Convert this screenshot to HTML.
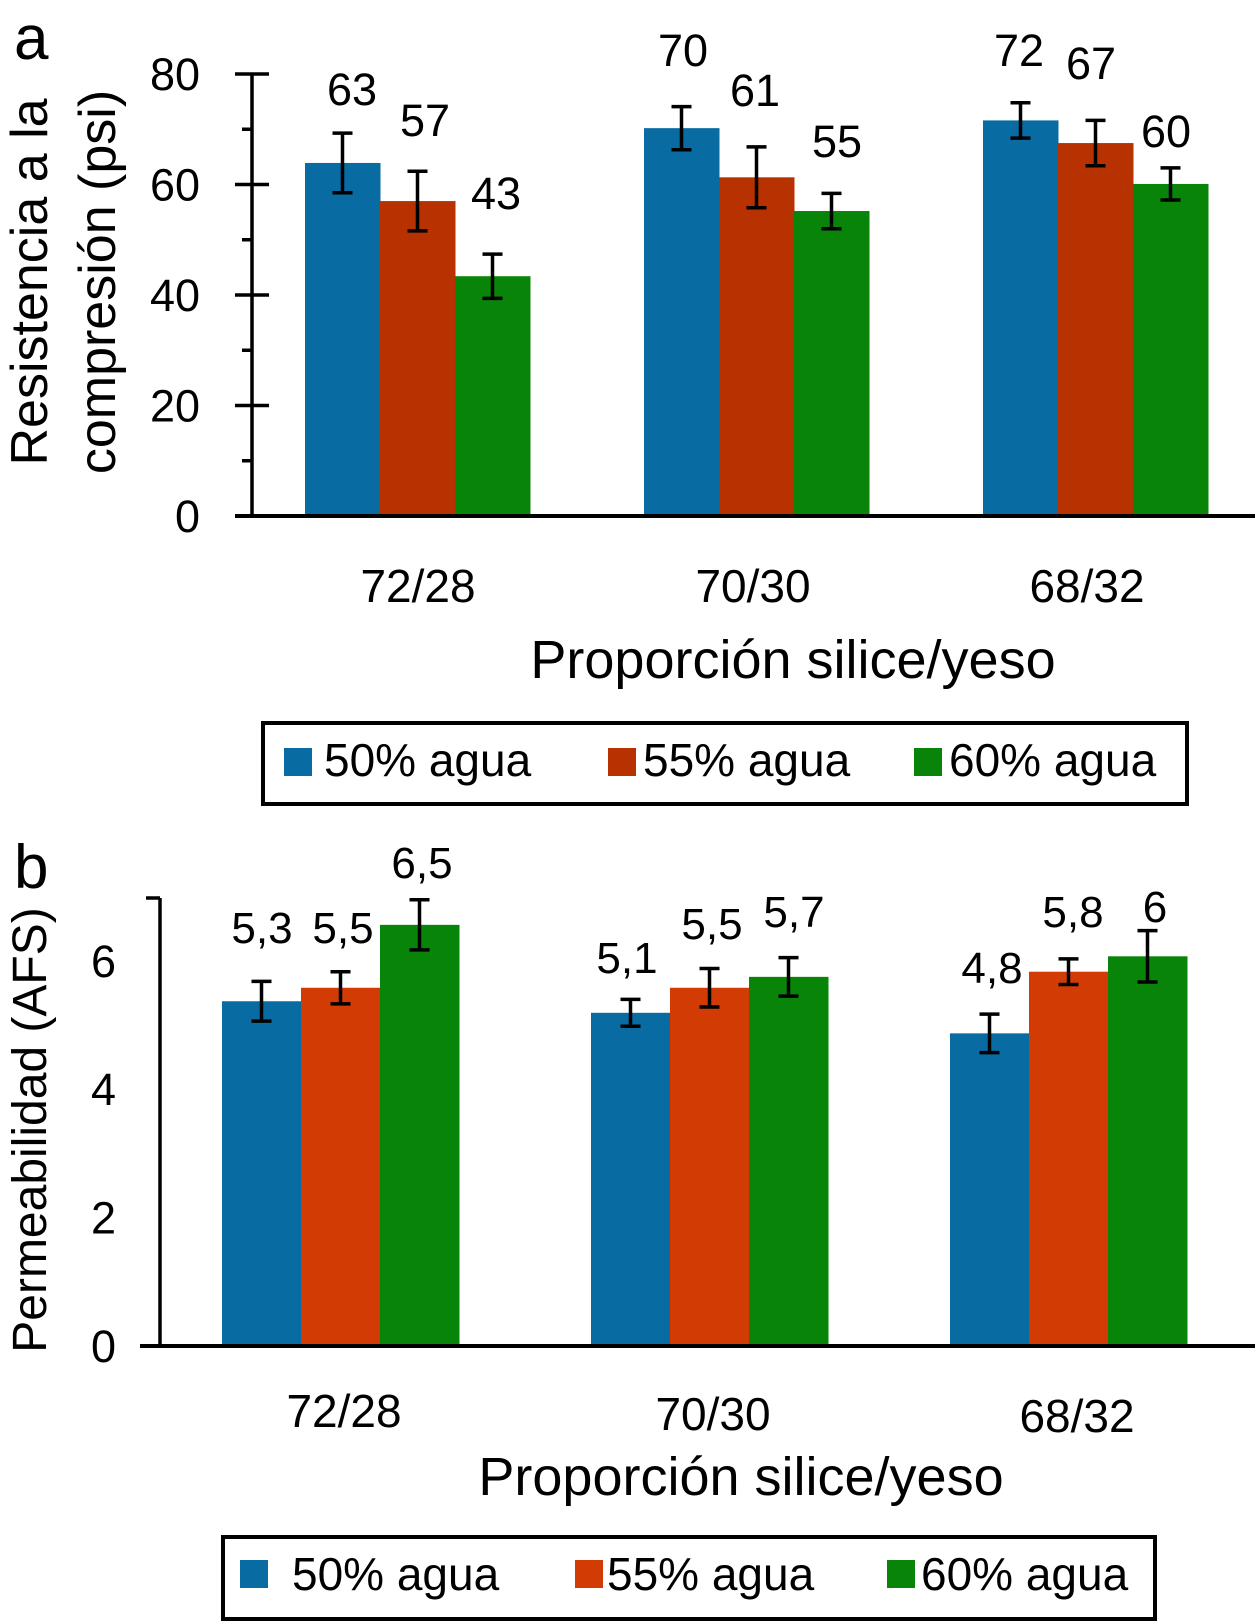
<!DOCTYPE html>
<html><head><meta charset="utf-8"><style>
body{margin:0;background:#fff}
svg{display:block;font-family:"Liberation Sans",Arial,sans-serif}
</style></head><body>
<svg id="s" width="1255" height="1622" viewBox="0 0 1255 1622"></svg>
<script>
const categories=["72/28","70/30","68/32"];
const seriesNames=["50% agua","55% agua","60% agua"];
const aValues=[[63.9,70.2,71.6],[57.0,61.3,67.5],[43.4,55.2,60.1]];
const aErrors=[[5.4,3.9,3.2],[5.4,5.5,4.1],[4.0,3.2,2.9]];
const aLabels=[["63","70","72"],["57","61","67"],["43","55","60"]];
const aTicks=[0,20,40,60,80];
const bValues=[[5.37,5.19,4.87],[5.58,5.58,5.83],[6.56,5.75,6.07]];
const bErrors=[[0.31,0.21,0.3],[0.25,0.3,0.2],[0.39,0.3,0.4]];
const bLabels=[["5,3","5,1","4,8"],["5,5","5,5","5,8"],["6,5","5,7","6"]];
const bTicks=[0,2,4,6];

const NS="http://www.w3.org/2000/svg",svg=document.getElementById("s");
function mk(t,a,txt){const e=document.createElementNS(NS,t);for(const k in a)e.setAttribute(k,a[k]);if(txt!=null)e.textContent=txt;svg.appendChild(e);return e;}

function chart(o){
  const y=v=>o.y0-(v-o.vmin)*o.ppu;
  let e=mk("text",{x:o.letter[0],y:o.letter[1],"font-size":62},o.letterText);
  
  
  o.vals.forEach((ser,si)=>{
    ser.forEach((v,ci)=>{
      const x0=o.groupX[ci]+si*o.bw, w=o.bw;
      let r=mk("rect",{x:x0,y:y(v),width:w+0.5,height:o.y0-y(v),fill:o.colors[si]});
      
      
      const cx=x0+w/2, er=o.errs[si][ci];
      let g=mk("path",{d:`M${cx} ${y(v+er)}V${y(v-er)}M${cx-10} ${y(v+er)}H${cx+10}M${cx-10} ${y(v-er)}H${cx+10}`,stroke:"#000","stroke-width":3.5,fill:"none"});
      
      
      let t=mk("text",{x:o.lblPos[si][ci][0],y:o.lblPos[si][ci][1],"font-size":o.vfs,"text-anchor":"middle"},o.labels[si][ci]);
      
      
    });
  });
  let ax=mk("line",{x1:o.axX,y1:o.axTop,x2:o.axX,y2:o.y0+2,stroke:"#000","stroke-width":3.5});
  
  
  let xa=mk("line",{x1:o.xaStart,y1:o.y0,x2:1255,y2:o.y0,stroke:"#000","stroke-width":4});
  
  
  o.ticks.forEach(v=>{
    let t=mk("text",{x:o.tickX,y:y(v)+16,"font-size":45,"text-anchor":"end"},String(v));
    
    
  });
  o.tickMarks.forEach(v=>{
    let l=mk("line",{x1:o.axX-(o.major(v)?17:10),y1:y(v),x2:o.axX+(o.major(v)?17:0),y2:y(v),stroke:"#000","stroke-width":3.5});
    
    
  });
  categories.forEach((c,ci)=>{
    let t=mk("text",{x:o.catX[ci],y:o.catY[ci],"font-size":46,"text-anchor":"middle"},c);
    
    
  });
  let xt=mk("text",{x:o.xtitle[0],y:o.xtitle[1],"font-size":54,"text-anchor":"middle"},"Proporción silice/yeso");
  
  
  let yt=mk("text",{transform:`translate(${o.ytitle[0]},${o.ytitle[1]}) rotate(-90)`,"font-size":o.ytfs,"text-anchor":"middle"});
  
  
  o.ytLines.forEach((s,i)=>{const ts=document.createElementNS(NS,"tspan");ts.setAttribute("x",0);ts.setAttribute("y",i*o.ytLH);ts.textContent=s;yt.appendChild(ts);});
  let lb=mk("rect",{x:o.leg[0],y:o.leg[1],width:o.leg[2],height:o.leg[3],fill:"#fff",stroke:"#000","stroke-width":4});
  
  
  seriesNames.forEach((n,si)=>{
    let sw=mk("rect",{x:o.legSw[si],y:o.legSwY,width:28,height:28,fill:o.colors[si]});
    
    
    let t=mk("text",{x:o.legTx[si],y:o.legTY,"font-size":46},n);
    
    
  });
}

chart({id:"a",letterText:"a",letter:[14,59],vmin:0,y0:516,ppu:110.5/20,axX:252,axTop:75,xaStart:235,
  groupX:[305,644,983],bw:75,colors:["#086ca3","#b83100","#088508"],vals:aValues,errs:aErrors,labels:aLabels,vfs:45,
  lblPos:[[[352,105],[683,66],[1019,66]],[[425,136],[755,106],[1091,79]],[[496,209],[837,157],[1166,147]]],
  ticks:aTicks,tickX:200,tickMarks:[0,10,20,30,40,50,60,70,80],major:v=>v%20==0,
  catX:[418,753,1087],catY:[602,602,602],xtitle:[793,678],ytitle:[47,282],ytfs:52,ytLines:["Resistencia a la","compresión (psi)"],ytLH:68,
  leg:[263,723,924,81],legSw:[284,608,914],legSwY:748,legTx:[324,643,949],legTY:776});

chart({id:"b",letterText:"b",letter:[14,888],vmin:0,y0:1346,ppu:64.2,axX:160,axTop:898,xaStart:140,
  groupX:[222,591,950],bw:79,colors:["#086ca3","#d33b05","#088508"],vals:bValues,errs:bErrors,labels:bLabels,vfs:44,
  lblPos:[[[262,943],[627,973],[992,983]],[[343,943],[712,939],[1073,927]],[[422,878],[794,927],[1155,922]]],
  ticks:bTicks,tickX:116,tickMarks:[],major:v=>true,
  catX:[344,713,1077],catY:[1427,1430,1432],xtitle:[741,1495],ytitle:[46,1130],ytfs:48,ytLines:["Permeabilidad (AFS)"],ytLH:0,
  leg:[223,1537,932,82],legSw:[240,575,887],legSwY:1560,legTx:[292,607,921],legTY:1590});
let tt=mk("line",{x1:146,y1:898,x2:160,y2:898,stroke:"#000","stroke-width":3.5});


</script>
</body></html>
